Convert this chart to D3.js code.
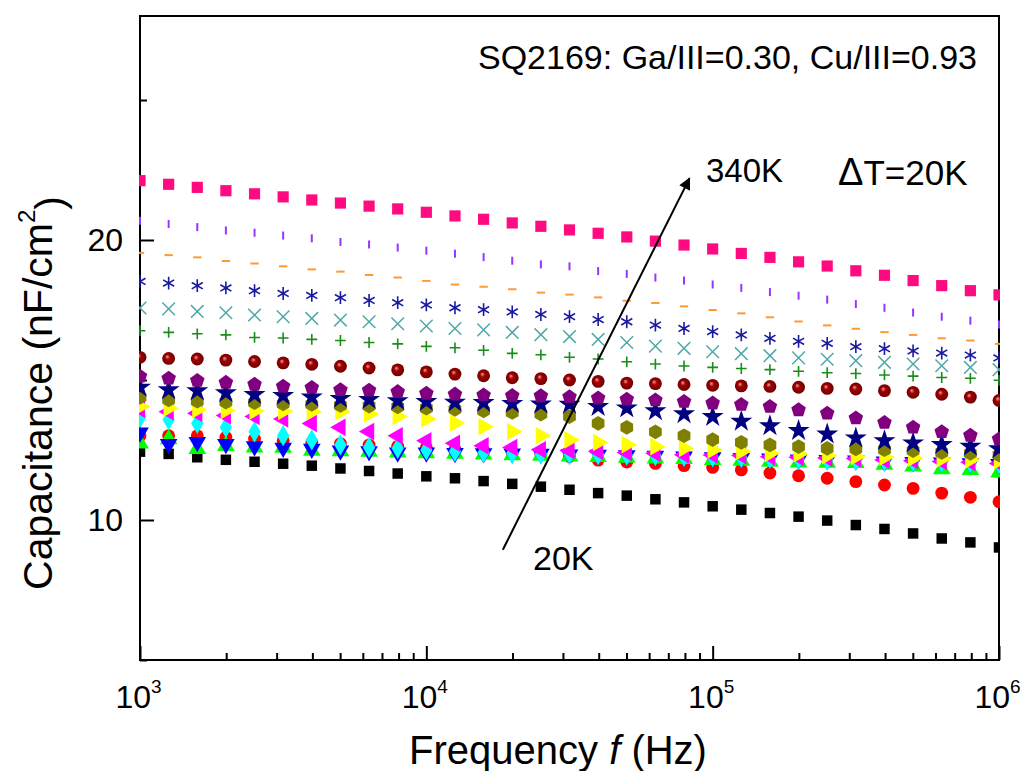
<!DOCTYPE html>
<meta charset="utf-8">
<html>
<head>
<script src="https://d3js.org/d3.v7.min.js"></script>
<style>
  body { margin: 0; background: #fff; }
  text { font-family: "Liberation Sans", Arial, sans-serif; fill: #000; }
  .frame { fill: none; stroke: #000; stroke-width: 2; }
  .tick line { stroke: #000; stroke-width: 2; }
</style>
</head>
<body>
<svg id="chart" width="1021" height="771"></svg>
<script>
// frequencies (Hz), 10 points per decade
var freqs = [1000, 1259, 1585, 1995, 2512, 3162, 3981, 5012, 6310, 7943,
  10000, 12589, 15849, 19953, 25119, 31623, 39811, 50119, 63096, 79433,
  100000, 125893, 158489, 199526, 251189, 316228, 398107, 501187, 630957, 794328, 1000000];

// capacitance (nF/cm2), one array per temperature
var cap20K = [12.44,12.36,12.24,12.15,12.08,12.01,11.94,11.84,11.75,11.66,11.56,11.49,11.39,11.29,11.19,11.08,10.96,10.87,10.74,10.63,10.49,10.37,10.25,10.12,9.98,9.82,9.68,9.52,9.34,9.20,9.02];
var cap40K = [13.01,13.01,13.01,12.95,12.89,12.83,12.77,12.73,12.68,12.63,12.58,12.52,12.48,12.41,12.35,12.27,12.14,12.07,12.02,11.94,11.88,11.79,11.68,11.58,11.49,11.37,11.25,11.13,10.96,10.81,10.65];
var cap60K = [12.74,12.89,12.54,12.65,12.59,12.58,12.48,12.46,12.44,12.41,12.39,12.37,12.34,12.32,12.30,12.27,12.25,12.23,12.20,12.18,12.15,12.12,12.08,12.06,12.05,12.04,11.98,11.91,11.82,11.79,11.70];
var cap80K = [13.12,12.71,12.78,12.71,12.63,12.58,12.54,12.48,12.45,12.41,12.41,12.39,12.38,12.37,12.36,12.34,12.33,12.31,12.29,12.26,12.24,12.21,12.19,12.16,12.14,12.12,12.09,12.07,12.05,12.02,12.00];
var cap100K = [13.66,13.58,13.45,13.31,13.15,13.01,12.86,12.68,12.59,12.56,12.50,12.45,12.41,12.38,12.36,12.36,12.33,12.32,12.30,12.27,12.25,12.23,12.20,12.18,12.15,12.13,12.11,12.08,12.06,12.04,12.01];
var cap120K = [13.96,13.87,13.81,13.73,13.70,13.61,13.45,13.31,13.16,13.01,12.83,12.74,12.65,12.59,12.51,12.48,12.45,12.41,12.38,12.33,12.32,12.30,12.26,12.24,12.21,12.20,12.14,12.12,12.09,12.06,12.02];
var cap140K = [14.05,13.99,13.94,13.91,13.89,13.88,13.87,13.87,13.79,13.70,13.61,13.46,13.33,13.16,13.01,12.86,12.77,12.69,12.62,12.56,12.50,12.45,12.38,12.36,12.30,12.26,12.24,12.21,12.18,12.15,12.12];
var cap160K = [14.38,14.29,14.24,14.21,14.19,14.15,14.13,14.09,14.07,14.04,13.99,13.95,13.90,13.84,13.78,13.69,13.45,13.31,13.15,13.01,12.87,12.77,12.68,12.62,12.56,12.54,12.51,12.48,12.41,12.38,12.32];
var cap180K = [14.74,14.65,14.61,14.54,14.48,14.44,14.39,14.34,14.30,14.26,14.23,14.20,14.19,14.16,14.14,14.13,14.05,14.00,13.90,13.79,13.69,13.52,13.36,13.19,13.07,12.93,12.83,12.75,12.69,12.63,12.54];
var cap200K = [15.13,15.06,14.98,14.91,14.84,14.77,14.73,14.65,14.63,14.58,14.52,14.49,14.46,14.44,14.43,14.40,14.35,14.31,14.28,14.23,14.17,14.12,14.05,13.93,13.81,13.64,13.48,13.31,13.15,13.02,12.89];
var cap220K = [15.81,15.77,15.75,15.71,15.66,15.61,15.56,15.49,15.43,15.36,15.29,15.21,15.15,15.08,15.05,15.00,14.95,14.89,14.87,14.84,14.81,14.79,14.77,14.74,14.70,14.68,14.62,14.56,14.49,14.39,14.27];
var cap240K = [16.76,16.70,16.65,16.61,16.52,16.50,16.45,16.41,16.34,16.29,16.20,16.15,16.06,15.95,15.90,15.81,15.75,15.65,15.57,15.50,15.45,15.41,15.37,15.31,15.26,15.23,15.18,15.14,15.09,15.06,14.99];
var cap260K = [17.57,17.54,17.45,17.40,17.32,17.26,17.20,17.14,17.08,17.01,16.93,16.84,16.79,16.70,16.62,16.55,16.45,16.34,16.21,16.13,16.01,15.94,15.87,15.79,15.74,15.69,15.63,15.57,15.51,15.45,15.37];
var cap280K = [18.52,18.46,18.37,18.29,18.19,18.09,18.02,17.94,17.84,17.76,17.68,17.58,17.51,17.43,17.34,17.26,17.16,17.08,16.96,16.84,16.73,16.61,16.49,16.38,16.31,16.19,16.12,16.04,15.96,15.89,15.79];
var cap300K = [19.54,19.46,19.38,19.25,19.16,19.06,18.95,18.87,18.75,18.66,18.54,18.41,18.33,18.24,18.12,18.05,17.95,17.83,17.75,17.63,17.50,17.38,17.24,17.09,16.95,16.83,16.71,16.61,16.49,16.41,16.29];
var cap320K = [20.69,20.57,20.46,20.34,20.26,20.16,20.06,19.93,19.84,19.73,19.62,19.51,19.39,19.26,19.13,19.06,18.89,18.79,18.66,18.55,18.41,18.29,18.14,18.01,17.87,17.71,17.58,17.41,17.26,17.12,16.98];
var cap340K = [22.12,21.99,21.88,21.76,21.65,21.54,21.43,21.32,21.21,21.11,20.99,20.86,20.74,20.61,20.49,20.36,20.24,20.11,19.96,19.82,19.68,19.52,19.38,19.22,19.07,18.90,18.74,18.55,18.37,18.19,18.04];

var temps = [20, 40, 60, 80, 100, 120, 140, 160, 180, 200, 220, 240, 260, 280, 300, 320, 340];
var caps = [cap20K, cap40K, cap60K, cap80K, cap100K, cap120K, cap140K, cap160K, cap180K,
  cap200K, cap220K, cap240K, cap260K, cap280K, cap300K, cap320K, cap340K];

var xTicks = [1e3, 1e4, 1e5, 1e6];
var yTicks = [10, 20];
var yMinor = [5, 15, 25];

// marker styles, Origin default order
function polygon(n, rot) {
  return { draw: function(ctx, size) {
    var r = Math.sqrt(size / (n / 2 * Math.sin(2 * Math.PI / n)));
    for (var i = 0; i < n; i++) {
      var a = rot + i * 2 * Math.PI / n;
      var px = r * Math.sin(a), py = -r * Math.cos(a);
      if (i == 0) ctx.moveTo(px, py); else ctx.lineTo(px, py);
    }
    ctx.closePath();
  }};
}
var hbar = { draw: function(ctx, size) { var w = Math.sqrt(size) / 2; ctx.moveTo(-w, 0); ctx.lineTo(w, 0); } };
var vbar = { draw: function(ctx, size) { var w = Math.sqrt(size) / 2; ctx.moveTo(0, -w); ctx.lineTo(0, w); } };

var styles = [
  { type: d3.symbolSquare, size: 110, fill: "#000000" },
  { type: d3.symbolCircle, size: 130, fill: "#ff0000" },
  { type: d3.symbolTriangle, size: 135, fill: "#00ff00" },
  { type: d3.symbolTriangle, size: 135, fill: "#0000ff", rot: 180 },
  { type: d3.symbolDiamond, size: 130, fill: "#00ffff" },
  { type: d3.symbolTriangle, size: 135, fill: "#ff00ff", rot: -90 },
  { type: d3.symbolTriangle, size: 135, fill: "#ffff00", rot: 90 },
  { type: polygon(6, 0), size: 140, fill: "#808000" },
  { type: d3.symbolStar, size: 150, fill: "#000080" },
  { type: polygon(5, 0), size: 140, fill: "#800080" },
  { type: d3.symbolCircle, size: 130, fill: "url(#sphere)" },
  { type: d3.symbolPlus, size: 40, stroke: "#1a8c1a", sw: 1.6 },
  { type: d3.symbolTimes, size: 105, stroke: "#4fa8a8", sw: 1.5 },
  { type: d3.symbolAsterisk, size: 115, stroke: "#1a1aa0", sw: 1.6 },
  { type: hbar, size: 70, stroke: "#ff9933", sw: 2 },
  { type: vbar, size: 64, stroke: "#9933ff", sw: 2 },
  { type: d3.symbolSquare, size: 125, fill: "#ff0a80" }
];

var svg = d3.select("#chart");
var margin = { top: 16, right: 22, bottom: 111, left: 140 };
var width = 1021 - margin.left - margin.right,
    height = 771 - margin.top - margin.bottom;

var defs = svg.append("defs");
var grad = defs.append("radialGradient").attr("id", "sphere")
  .attr("cx", "50%").attr("cy", "50%").attr("r", "55%").attr("fx", "38%").attr("fy", "35%");
grad.append("stop").attr("offset", "0%").attr("stop-color", "#f0a0a0");
grad.append("stop").attr("offset", "35%").attr("stop-color", "#a00000");
grad.append("stop").attr("offset", "100%").attr("stop-color", "#6a0000");
defs.append("clipPath").attr("id", "clip").append("rect")
  .attr("x", -1).attr("y", -1).attr("width", width + 2).attr("height", height + 2);
defs.append("marker").attr("id", "arrow").attr("viewBox", "0 0 10 10")
  .attr("refX", 9).attr("refY", 5).attr("markerWidth", 7).attr("markerHeight", 6)
  .attr("orient", "auto").attr("markerUnits", "strokeWidth")
  .append("path").attr("d", "M0,0L10,5L0,10z").attr("fill", "#000");

var g = svg.append("g").attr("transform", "translate(" + margin.left + "," + margin.top + ")");

var x = d3.scaleLog().domain([1e3, 1e6]).range([0, width]);
var y = d3.scaleLinear().domain([5, 28]).range([height, 0]);

// x axis, ticks inward
var xMinor = [];
for (var e = 3; e < 6; e++) for (var m = 2; m <= 9; m++) xMinor.push(m * Math.pow(10, e));

var gx = g.append("g").attr("transform", "translate(0," + height + ")")
  .call(d3.axisBottom(x).tickValues(xTicks).tickSizeInner(-14).tickSizeOuter(0).tickPadding(25));
gx.select(".domain").remove();
gx.selectAll(".tick text").attr("font-size", 32).attr("x", -2).text(null)
  .each(function(d) {
    var t = d3.select(this);
    t.append("tspan").text("10");
    t.append("tspan").attr("dy", "-0.8em").attr("font-size", 19).text(Math.round(Math.log10(d)));
  });
g.append("g").attr("transform", "translate(0," + height + ")")
  .call(d3.axisBottom(x).tickValues(xMinor).tickSizeInner(-7).tickSizeOuter(0).tickFormat(""))
  .select(".domain").remove();

// y axis
var gy = g.append("g")
  .call(d3.axisLeft(y).tickValues(yTicks).tickSizeInner(-14).tickSizeOuter(0).tickPadding(17));
gy.select(".domain").remove();
gy.selectAll(".tick text").attr("font-size", 32);
g.append("g")
  .call(d3.axisLeft(y).tickValues(yMinor).tickSizeInner(-7).tickSizeOuter(0).tickFormat(""))
  .select(".domain").remove();

g.append("rect").attr("class", "frame").attr("width", width).attr("height", height);

// data
var plot = g.append("g").attr("clip-path", "url(#clip)");
caps.forEach(function(vals, i) {
  var st = styles[i];
  var sym = d3.symbol().type(st.type).size(st.size);
  plot.append("g").attr("class", "series T" + temps[i])
    .selectAll("path")
    .data(vals)
    .enter().append("path")
      .attr("d", sym)
      .attr("transform", function(d, j) {
        return "translate(" + x(freqs[j]) + "," + y(d) + ")" + (st.rot ? " rotate(" + st.rot + ")" : "");
      })
      .attr("fill", st.fill || "none")
      .attr("stroke", st.stroke || "none")
      .attr("stroke-width", st.sw || 0);
});

// arrow 20K -> 340K
var arrowFrom = [18500, 8.94], arrowTo = [83000, 22.2];
g.append("line")
  .attr("x1", x(arrowFrom[0])).attr("y1", y(arrowFrom[1]))
  .attr("x2", x(arrowTo[0])).attr("y2", y(arrowTo[1]))
  .attr("stroke", "#000").attr("stroke-width", 2).attr("marker-end", "url(#arrow)");

// annotations
svg.append("text").attr("x", 977).attr("y", 69).attr("text-anchor", "end").attr("font-size", 34)
  .text("SQ2169: Ga/III=0.30, Cu/III=0.93");
svg.append("text").attr("x", 706).attr("y", 182).attr("font-size", 33).text("340K");
var dt = svg.append("text").attr("x", 838).attr("y", 185).attr("font-size", 35);
dt.append("tspan").attr("font-size", 38).text("\u0394");
dt.append("tspan").text("T=20K");
svg.append("text").attr("x", 533).attr("y", 570).attr("font-size", 34).text("20K");

// axis titles
var xt = svg.append("text").attr("x", 558).attr("y", 764).attr("text-anchor", "middle").attr("font-size", 40);
xt.append("tspan").text("Frequency ");
xt.append("tspan").attr("font-style", "italic").text("f");
xt.append("tspan").text(" (Hz)");

var yt = svg.append("text").attr("transform", "translate(52,393) rotate(-90)")
  .attr("text-anchor", "middle").attr("font-size", 41);
yt.append("tspan").text("Capacitance (nF/cm");
yt.append("tspan").attr("dy", "-0.7em").attr("font-size", 24).text("2");
yt.append("tspan").attr("dy", "0.7em").text(")");
</script>
</body>
</html>
